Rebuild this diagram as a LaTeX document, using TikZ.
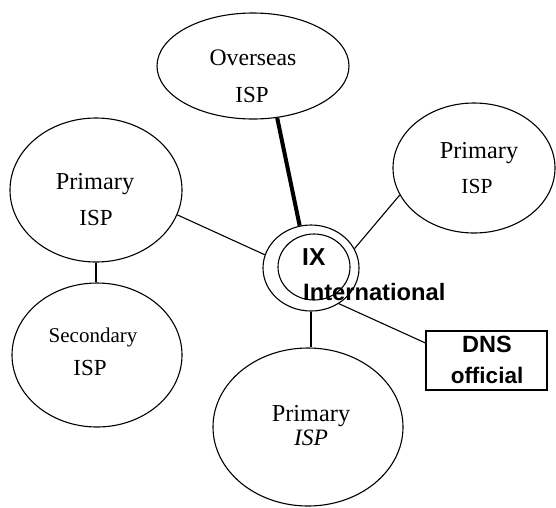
\documentclass[tikz,border=0pt]{standalone}
\usepackage{fontspec}
\setmainfont{Liberation Serif}
\setsansfont{Liberation Sans}
\usetikzlibrary{shapes.geometric}
\begin{document}
\begin{tikzpicture}[x=1pt,y=-1pt,
  isp/.style={draw, ellipse, line width=1.1pt, inner sep=0pt},
  lbl/.style={inner sep=0pt, anchor=base, font=\fontsize{23}{23}\selectfont},
  sans/.style={inner sep=0pt, font=\sffamily\bfseries\fontsize{23.5}{23.5}\selectfont},
  link/.style={line width=1.1pt}]
\useasboundingbox (0,0) rectangle (556,507);
% ellipses
\node[isp, minimum width=192pt, minimum height=106pt] (ovs) at (253,66) {};
\node[isp, minimum width=172pt, minimum height=144pt] (lp) at (96,190) {};
\node[isp, minimum width=170pt, minimum height=144pt] (sec) at (97,355) {};
\node[isp, minimum width=162pt, minimum height=130pt] (rp) at (474,168) {};
\node[isp, minimum width=190pt, minimum height=158pt] (bp) at (308,427) {};
\node[isp, minimum width=96pt, minimum height=86pt] (ix) at (311,268) {};
\node[isp, minimum width=72pt, minimum height=66pt] (ixin) at (314,267) {};
\node[draw, line width=1.1pt, minimum width=121pt, minimum height=59pt, inner sep=0pt] (dns) at (486.5,360.5) {};
% labels
\node[lbl, font=\fontsize{23.7}{23.7}\selectfont] (ovsA) at (253,65) {Overseas};
\node[lbl] (ovsB) at (252,102) {ISP};
\node[lbl, font=\fontsize{24.3}{24.3}\selectfont] (lpA) at (95,189) {Primary};
\node[lbl] (lpB) at (96,225) {ISP};
\node[lbl, font=\fontsize{21}{21}\selectfont] (secA) at (93,342) {Secondary};
\node[lbl] (secB) at (90,375) {ISP};
\node[lbl, font=\fontsize{24.3}{24.3}\selectfont] (rpA) at (479,158) {Primary};
\node[lbl, font=\fontsize{21.5}{21.5}\selectfont] (rpB) at (477,193) {ISP};
\node[lbl, font=\fontsize{24.3}{24.3}\selectfont] (bpA) at (311,421) {Primary};
\node[lbl, font=\itshape\fontsize{23.5}{23.5}\selectfont] (bpB) at (311,445) {ISP};
\node[sans, anchor=base west, font=\sffamily\bfseries\fontsize{24.5}{24.5}\selectfont] (ixA) at (302,265) {IX};
\node[sans, anchor=base west, font=\sffamily\bfseries\fontsize{23.7}{23.7}\selectfont] (ixB) at (303,300) {International};
\node[sans, anchor=base] (dnsA) at (487,352) {DNS};
\node[sans, anchor=base, font=\sffamily\bfseries\fontsize{22.5}{22.5}\selectfont] (dnsB) at (487,383) {official};
% connectors
\draw[line width=4pt] (ovs.-65.6) -- (ix.105);
\draw[link] (lp.-17) -- (ix.164);
\draw[link] (rp.200) -- (ix.24.5);
\draw[link] (ix.-52) -- (dns.164);
\draw[link] (ix.south) -- (bp.north -| ix.south);
\draw[link] (lp.south) -- (sec.north -| lp.south);
\end{tikzpicture}
\end{document}
